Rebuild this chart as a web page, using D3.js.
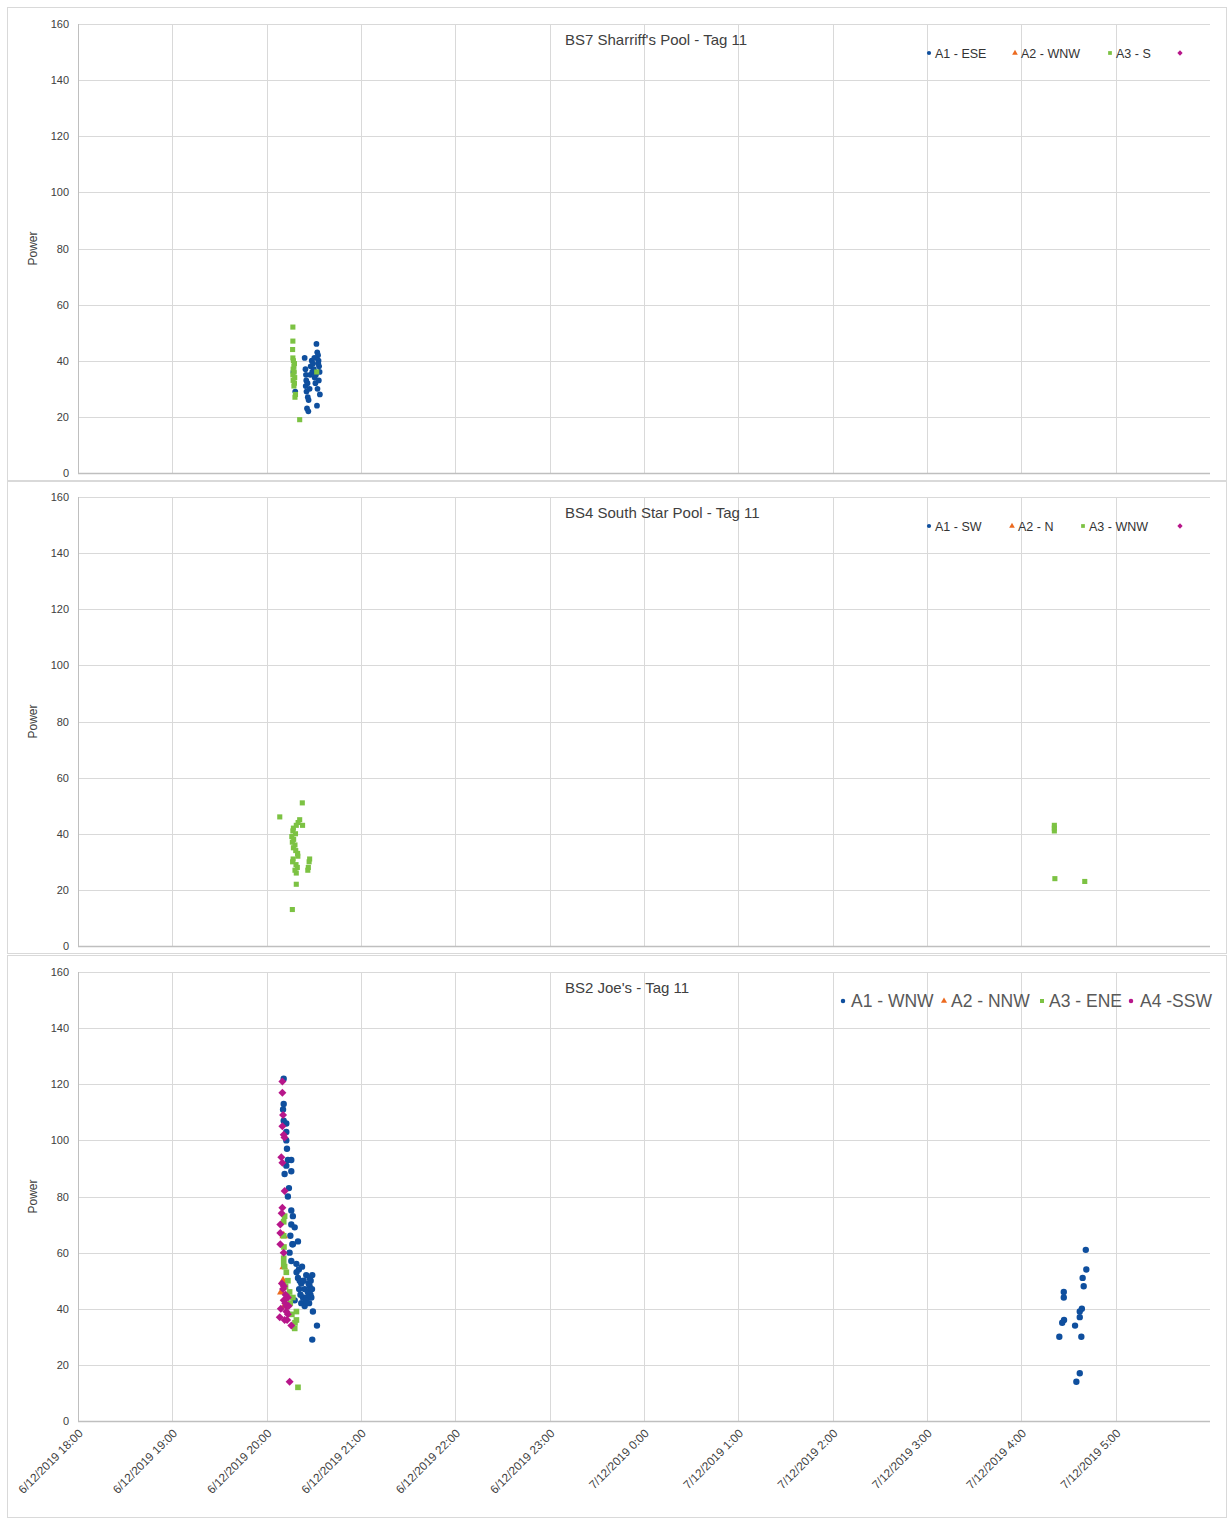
<!DOCTYPE html>
<html>
<head>
<meta charset="utf-8">
<script src="https://cdn.jsdelivr.net/npm/d3@7"></script>
<style>
  body { margin: 0; background: #fff; }
  text { font-family: "Liberation Sans", Arial, sans-serif; }
</style>
</head>
<body>
<svg id="chart" width="1227" height="1519"></svg>
<script>
// ---- data ---------------------------------------------------------------
// Readings are [time, power]; times before noon belong to 7/12/2019, the rest to 6/12/2019.
const powerTicks = [0, 20, 40, 60, 80, 100, 120, 140, 160];
const timeTickLabels = [
  "6/12/2019 18:00", "6/12/2019 19:00", "6/12/2019 20:00", "6/12/2019 21:00",
  "6/12/2019 22:00", "6/12/2019 23:00", "7/12/2019 0:00", "7/12/2019 1:00",
  "7/12/2019 2:00", "7/12/2019 3:00", "7/12/2019 4:00", "7/12/2019 5:00"
];
const timeDomain = ["6/12/2019 18:00", "7/12/2019 6:00"];

// BS7 Sharriff's Pool
const bs7_A1 = [
  ["20:17:00",36],["20:18:10",29],["20:24:10",41],["20:24:40",37],["20:25:00",35],["20:25:10",33],
  ["20:24:50",31],["20:25:20",29],["20:26:10",27],["20:26:40",26],["20:25:40",23],["20:26:30",22],
  ["20:27:40",35],["20:28:00",38],["20:28:40",40],["20:29:30",39],["20:30:00",37],["20:30:30",34],
  ["20:31:00",32],["20:31:40",46],["20:32:10",43],["20:32:40",42],["20:33:00",40],["20:33:20",38],
  ["20:33:40",36],["20:33:10",33],["20:32:20",30],["20:33:50",28],["20:32:00",24],["20:27:20",30],
  ["20:29:00",36],["20:31:20",35],["20:30:20",41],["20:26:00",32],["20:32:50",39]
];
const bs7_A2 = [];
const bs7_A3 = [
  ["20:16:40",52],["20:16:40",47],["20:16:30",44],["20:16:40",41],["20:17:00",40],["20:17:40",39],
  ["20:17:20",38],["20:16:50",37],["20:17:30",36],["20:16:40",35],["20:17:50",34],["20:16:50",33],
  ["20:17:40",32],["20:17:20",31],["20:18:20",28],["20:18:00",27],["20:21:00",19],["20:31:50",36]
];
const bs7_A4 = [];

// BS4 South Star Pool
const bs4_A1 = [];
const bs4_A2 = [];
const bs4_A3 = [
  ["20:22:40",51],["20:08:20",46],["20:21:00",45],["20:20:00",44],["20:22:50",43],["20:18:50",43],
  ["20:17:00",42],["20:16:40",41],["20:18:20",40],["20:16:00",39],["20:17:10",38],["20:16:20",37],
  ["20:18:00",36],["20:17:00",35],["20:18:30",34],["20:19:40",33],["20:19:50",32],["20:16:50",31],
  ["20:16:30",30],["20:18:40",29],["20:19:30",28],["20:18:00",27],["20:18:50",26],["20:27:20",31],
  ["20:27:00",30],["20:26:30",28],["20:26:10",27],["20:18:50",22],["20:16:20",13],
  ["04:21:00",43],["04:21:00",42],["04:21:00",41],["04:21:20",24],["04:40:20",23]
];
const bs4_A4 = [];

// BS2 Joe's
const bs2_A1 = [
  ["20:10:50",122],["20:10:50",113],["20:10:25",111],["20:10:50",107],["20:12:30",106],["20:12:30",103],
  ["20:12:30",100],["20:12:55",97],["20:13:30",93],["20:15:40",93],["20:12:30",91],["20:15:40",89],
  ["20:11:25",88],["20:14:10",83],["20:13:30",80],["20:15:40",75],["20:16:40",73],["20:15:40",70],
  ["20:17:50",69],["20:15:05",66],["20:19:55",64],["20:16:40",63],["20:16:20",63],["20:14:35",60],
  ["20:15:40",57],["20:18:55",56],["20:20:30",54],["20:25:10",52],["20:27:20",51],["20:19:55",51],
  ["20:22:00",49],["20:24:10",47],["20:27:20",48],["20:26:10",46],["20:28:25",44],["20:23:05",44],
  ["20:22:00",42],["20:24:10",41],["20:29:25",39],["20:32:00",34],["20:29:00",29],["20:17:50",43],
  ["20:21:00",50],["20:23:30",50],["20:26:40",49],["20:28:00",50],["20:29:00",52],["20:28:50",47],
  ["20:27:50",45],["20:25:40",44],["20:24:50",43],["20:27:00",42],["20:20:40",47],["20:19:00",53],
  ["20:22:30",55],["20:21:30",45],
  ["04:41:00",61],["04:41:20",54],["04:39:00",51],["04:39:40",48],["04:27:00",46],["04:27:00",44],
  ["04:38:30",40],["04:37:10",39],["04:27:10",36],["04:26:00",35],["04:37:10",37],["04:34:10",34],
  ["04:24:10",30],["04:38:10",30],["04:37:10",17],["04:35:00",14]
];
const bs2_A2 = [
  ["20:10:50",66],["20:10:50",55],["20:10:25",50],["20:09:20",46],["20:11:25",41]
];
const bs2_A3 = [
  ["20:11:25",73],["20:10:50",71],["20:10:50",66],["20:10:50",58],["20:10:50",56],["20:11:25",55],
  ["20:12:30",53],["20:13:30",50],["20:14:35",46],["20:16:40",44],["20:18:55",39],["20:18:55",36],
  ["20:17:50",33],["20:19:55",12],["20:11:00",62],["20:12:00",48],["20:15:00",42],["20:13:00",45],
  ["20:18:00",35],["20:16:00",38]
];
const bs2_A4 = [
  ["20:10:00",121],["20:10:00",117],["20:10:25",109],["20:10:50",102],["20:09:20",94],["20:10:00",92],
  ["20:11:25",82],["20:10:00",76],["20:09:30",74],["20:08:40",70],["20:08:40",67],["20:08:40",63],
  ["20:10:50",60],["20:10:50",43],["20:12:30",41],["20:08:20",37],["20:11:25",36],["20:13:30",38],
  ["20:15:40",34],["20:12:30",39],["20:14:35",14],["20:13:30",44],["20:10:25",47],["20:09:40",49],
  ["20:11:00",48],["20:12:00",45],["20:14:00",41],["20:13:00",36],["20:11:50",42],["20:09:00",40],
  ["20:11:20",101],["20:10:00",105]
];

// ---- helpers ------------------------------------------------------------
const parseLabel = d3.timeParse("%d/%m/%Y %H:%M");
const parseFull = d3.timeParse("%d/%m/%Y %H:%M:%S");
const toDate = t => parseFull((t < "12" ? "7/12/2019 " : "6/12/2019 ") + t);

// square turned 45 degrees, as spreadsheet diamond markers are drawn
const symbolWideDiamond = {
  draw(ctx, size) {
    const r = Math.sqrt(size / 2);
    ctx.moveTo(0, -r); ctx.lineTo(r, 0); ctx.lineTo(0, r); ctx.lineTo(-r, 0); ctx.closePath();
  }
};

const COLORS = { A1: "#0f4f9e", A2: "#ec6a1f", A3: "#7cc243", A4: "#b7168a" };
const SYMBOLS = { A1: d3.symbolCircle, A2: d3.symbolTriangle, A3: d3.symbolSquare, A4: symbolWideDiamond };

const svg = d3.select("#chart");
const x = d3.scaleTime().domain(timeDomain.map(parseLabel)).range([78, 1210]);

const panels = [
  {
    frame: [7, 7, 1226, 480], top: 24, bottom: 473,
    title: "BS7 Sharriff's Pool - Tag 11",
    series: [["A1", bs7_A1], ["A2", bs7_A2], ["A3", bs7_A3], ["A4", bs7_A4]],
    markerSize: 26,
    legend: { y: 53, font: 12.5, color: "#333", items: [
      { key: "A1", mx: 929, tx: 935, label: "A1 - ESE" },
      { key: "A2", mx: 1015, tx: 1021, label: "A2 - WNW" },
      { key: "A3", mx: 1110, tx: 1116, label: "A3 - S" },
      { key: "A4", mx: 1180, tx: 1186, label: "" }
    ]},
    xLabels: false
  },
  {
    frame: [7, 481, 1226, 953], top: 497, bottom: 946,
    title: "BS4 South Star Pool - Tag 11",
    series: [["A1", bs4_A1], ["A2", bs4_A2], ["A3", bs4_A3], ["A4", bs4_A4]],
    markerSize: 26,
    legend: { y: 526, font: 12.5, color: "#333", items: [
      { key: "A1", mx: 929, tx: 935, label: "A1 - SW" },
      { key: "A2", mx: 1012, tx: 1018, label: "A2 - N" },
      { key: "A3", mx: 1083, tx: 1089, label: "A3 - WNW" },
      { key: "A4", mx: 1180, tx: 1186, label: "" }
    ]},
    xLabels: false
  },
  {
    frame: [7, 955, 1226, 1517], top: 972, bottom: 1421,
    title: "BS2 Joe's - Tag 11",
    series: [["A1", bs2_A1], ["A2", bs2_A2], ["A3", bs2_A3], ["A4", bs2_A4]],
    markerSize: 32,
    legend: { y: 1001, font: 17.5, color: "#595959", items: [
      { key: "A1", mx: 843, tx: 851, label: "A1 - WNW" },
      { key: "A2", mx: 944, tx: 951, label: "A2 - NNW" },
      { key: "A3", mx: 1042, tx: 1049, label: "A3 - ENE" },
      { key: "A4", mx: 1131, tx: 1140, label: "A4 -SSW", symbol: d3.symbolCircle }
    ]},
    xLabels: true
  }
];

const hourTicks = timeTickLabels.map(parseLabel);

panels.forEach(p => {
  const g = svg.append("g");
  const y = d3.scaleLinear().domain([0, 160]).range([p.bottom, p.top]);
  const [fx0, fy0, fx1, fy1] = p.frame;

  // chart frame
  g.append("rect")
    .attr("x", fx0 + 0.5).attr("y", fy0 + 0.5)
    .attr("width", fx1 - fx0).attr("height", fy1 - fy0)
    .attr("fill", "#fff").attr("stroke", "#d9d9d9");

  // gridlines
  g.append("g").selectAll("line").data(powerTicks.filter(v => v > 0)).join("line")
    .attr("x1", x.range()[0]).attr("x2", x.range()[1])
    .attr("y1", d => Math.round(y(d)) + 0.5).attr("y2", d => Math.round(y(d)) + 0.5)
    .attr("stroke", "#d9d9d9");
  g.append("g").selectAll("line").data(hourTicks.slice(1)).join("line")
    .attr("x1", d => Math.round(x(d)) + 0.5).attr("x2", d => Math.round(x(d)) + 0.5)
    .attr("y1", p.top).attr("y2", p.bottom)
    .attr("stroke", "#d9d9d9");

  // value axis
  const yAxis = g.append("g").attr("transform", `translate(${x.range()[0]},0)`)
    .call(d3.axisLeft(y).tickValues(powerTicks).tickSize(0).tickPadding(9));
  yAxis.select(".domain").attr("stroke", "#bfbfbf").attr("d", `M0.5,${p.top}V${p.bottom}`);
  yAxis.selectAll("text").attr("font-size", 11).attr("fill", "#404040")
    .attr("font-family", "Liberation Sans, Arial, sans-serif");

  // time axis
  const xAxis = g.append("g").attr("transform", `translate(0,${p.bottom})`)
    .call(d3.axisBottom(x).tickValues(hourTicks).tickSize(0)
      .tickFormat((d, i) => p.xLabels ? timeTickLabels[i] : ""));
  xAxis.select(".domain").attr("stroke", "#bfbfbf").attr("stroke-width", 1.6)
    .attr("d", `M${x.range()[0]},0.5H${x.range()[1]}`);
  xAxis.selectAll("text")
    .attr("font-size", 11.8).attr("fill", "#404040")
    .attr("font-family", "Liberation Sans, Arial, sans-serif")
    .attr("text-anchor", "end")
    .attr("dy", 0)
    .attr("transform", "translate(3,11) rotate(-45)");

  // axis title
  g.append("text")
    .attr("transform", `translate(37,${(p.top + p.bottom) / 2}) rotate(-90)`)
    .attr("text-anchor", "middle")
    .attr("font-size", 12).attr("fill", "#404040")
    .text("Power");

  // chart title
  g.append("text")
    .attr("x", 565).attr("y", p.top + 21)
    .attr("font-size", 15).attr("fill", "#404040")
    .text(p.title);

  // markers, later series drawn above earlier ones
  p.series.forEach(([key, data]) => {
    g.append("g").selectAll("path").data(data).join("path")
      .attr("transform", d => `translate(${x(toDate(d[0]))},${y(d[1])})`)
      .attr("d", d3.symbol().type(SYMBOLS[key]).size(p.markerSize))
      .attr("fill", COLORS[key]);
  });

  // legend
  const lg = g.append("g");
  p.legend.items.forEach(it => {
    lg.append("path")
      .attr("transform", `translate(${it.mx},${p.legend.y})`)
      .attr("d", d3.symbol().type(it.symbol || SYMBOLS[it.key]).size(p.legend.font > 14 ? 16 : 14))
      .attr("fill", COLORS[it.key]);
    lg.append("text")
      .attr("x", it.tx).attr("y", p.legend.y)
      .attr("dy", "0.36em")
      .attr("font-size", p.legend.font).attr("fill", p.legend.color)
      .text(it.label);
  });
});
</script>
</body>
</html>
